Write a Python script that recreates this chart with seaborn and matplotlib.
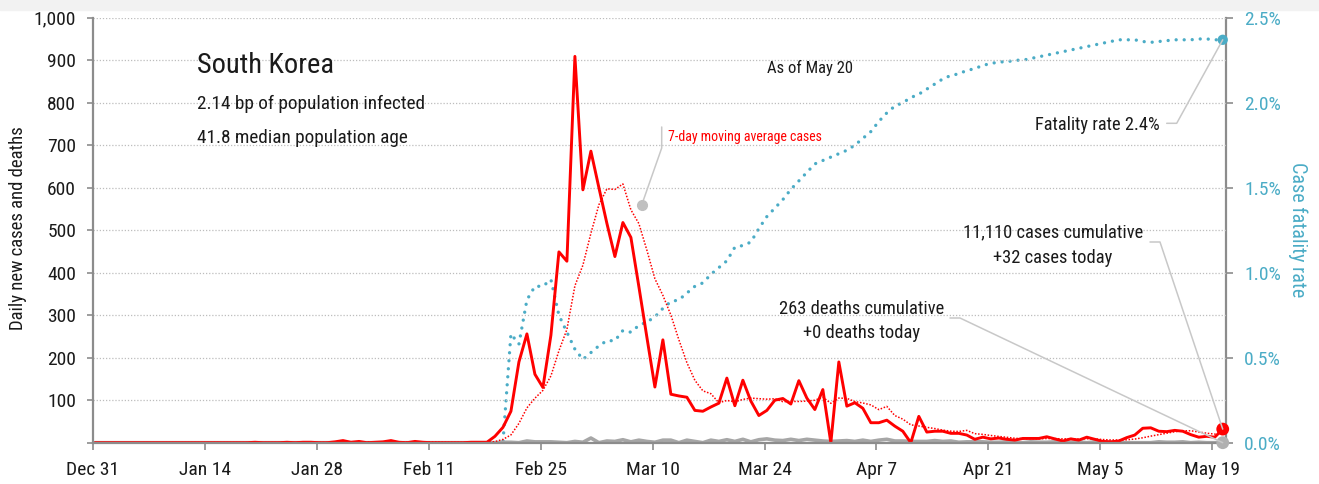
import matplotlib
matplotlib.use("Agg")
import matplotlib.pyplot as plt
import matplotlib.dates as mdates
from matplotlib import font_manager
from matplotlib.lines import Line2D
from matplotlib.patches import Rectangle
from matplotlib.ticker import FuncFormatter, MultipleLocator
import pandas as pd
import seaborn as sns

# South Korea, daily values from Dec 31 2019 to May 20 2020 (one per day, 14 per row)
daily_cases = [
    0, 0, 0, 0, 0, 0, 0, 0, 0, 0, 0, 0, 0, 0,
    0, 0, 0, 0, 0, 0, 1, 0, 0, 0, 1, 0, 1, 1,
    0, 0, 2, 5, 1, 3, 0, 1, 2, 5, 1, 0, 3, 1,
    0, 0, 0, 0, 0, 1, 1, 1, 15, 36, 74, 190, 256, 161,
    130, 253, 449, 427, 909, 595, 686, 600, 516, 438, 518, 483, 367, 248,
    131, 242, 114, 110, 107, 76, 74, 84, 93, 152, 87, 147, 98, 64,
    76, 100, 104, 91, 146, 105, 78, 125, 0, 190, 86, 94, 81, 47,
    47, 53, 39, 27, 0, 62, 25, 27, 27, 22, 22, 18, 8, 13,
    9, 11, 8, 6, 10, 10, 10, 14, 9, 4, 9, 6, 13, 8,
    3, 2, 4, 12, 18, 34, 35, 27, 26, 29, 27, 19, 13, 15,
    13, 32,
]
daily_deaths = [
    0, 0, 0, 0, 0, 0, 0, 0, 0, 0, 0, 0, 0, 0,
    0, 0, 0, 0, 0, 0, 0, 0, 0, 0, 0, 0, 0, 0,
    0, 0, 0, 0, 0, 0, 0, 0, 0, 0, 0, 0, 0, 0,
    0, 0, 0, 0, 0, 0, 0, 0, 0, 1, 1, 0, 4, 2,
    2, 2, 1, 0, 3, 1, 11, 0, 4, 3, 7, 2, 6, 3,
    1, 6, 6, 0, 6, 3, 0, 6, 3, 7, 3, 8, 2, 7,
    9, 6, 5, 8, 5, 8, 6, 4, 3, 4, 5, 3, 6, 3,
    6, 8, 4, 4, 3, 3, 3, 5, 3, 4, 1, 2, 2, 2,
    1, 1, 2, 0, 0, 2, 1, 1, 2, 1, 1, 2, 0, 2,
    2, 1, 1, 0, 0, 0, 0, 2, 1, 1, 2, 0, 1, 0,
    0, 0,
]
fatality_rate_pct = [
    0, 0, 0, 0, 0, 0, 0, 0, 0, 0, 0, 0, 0, 0,
    0, 0, 0, 0, 0, 0, 0, 0, 0, 0, 0, 0, 0, 0,
    0, 0, 0, 0, 0, 0, 0, 0, 0, 0, 0, 0, 0, 0,
    0, 0, 0, 0, 0, 0, 0, 0, 0, 0, 0.64, 0.58, 0.84, 0.92,
    0.92, 0.96, 0.75, 0.65, 0.55, 0.49, 0.53, 0.57, 0.60, 0.60, 0.66, 0.65, 0.69, 0.71,
    0.74, 0.79, 0.83, 0.84, 0.88, 0.92, 0.94, 0.99, 1.03, 1.07, 1.15, 1.16, 1.18, 1.26,
    1.33, 1.38, 1.43, 1.49, 1.54, 1.59, 1.64, 1.66, 1.68, 1.70, 1.72, 1.75, 1.79, 1.83,
    1.89, 1.94, 1.98, 2.00, 2.03, 2.05, 2.08, 2.11, 2.14, 2.16, 2.17, 2.19, 2.20, 2.22,
    2.23, 2.24, 2.24, 2.25, 2.25, 2.26, 2.27, 2.28, 2.29, 2.30, 2.31, 2.32, 2.33, 2.34,
    2.35, 2.36, 2.37, 2.37, 2.37, 2.36, 2.355, 2.36, 2.365, 2.37, 2.37, 2.37, 2.375, 2.375,
    2.37, 2.37,
]
# report time of day (morning bulletins sit a bit past midnight on the axis)
dates = pd.date_range("2019-12-31 07:00", "2020-05-20 07:00", freq="D")
axis_start = pd.Timestamp("2019-12-31")

RED = "#ff0000"
TEAL = "#4bacc6"
GRAY = "#a6a6a6"
AXIS_GRAY = "#8c8c8c"
LEADER = "#c8c8c8"
INK = "#1a1a1a"

W, H = 1319, 484

sns.set_style("white")


def pick_font():
    for name in ["Liberation Sans Narrow", "Roboto Condensed"]:
        try:
            font_manager.findfont(font_manager.FontProperties(family=name), fallback_to_default=False)
            return name
        except ValueError:
            pass
    return "Roboto"


plt.rcParams["font.family"] = [pick_font(), "DejaVu Sans"]

df = pd.DataFrame({
    "date": dates,
    "cases": daily_cases,
    "deaths": daily_deaths,
    "cfr": fatality_rate_pct,
})
df["ma7"] = df["cases"].rolling(7).mean()

fig = plt.figure(figsize=(W / 100, H / 100), dpi=100)
fig.patches.append(Rectangle((0, 1 - 10 / H), 1, 10 / H, transform=fig.transFigure,
                             color="#f2f2f2", zorder=0))
ax = fig.add_axes([92.7 / W, 1 - 442.7 / H, (1226 - 92.7) / W, 425 / H])

# daily lines on the left axis
sns.lineplot(data=df, x="date", y="deaths", color=GRAY, lw=2.6, ax=ax)
sns.lineplot(data=df.dropna(), x="date", y="ma7", color=RED, lw=1.1,
             linestyle=(0, (1, 1.1)), ax=ax)
sns.lineplot(data=df, x="date", y="cases", color=RED, lw=2.1, ax=ax)

ax.set_ylim(0, 1000)
ax.set_xlim(axis_start, axis_start + pd.Timedelta(days=141.7))
ax.yaxis.set_major_locator(MultipleLocator(100))
ax.yaxis.set_major_formatter(FuncFormatter(lambda v, p: "" if v == 0 else f"{v:,.0f}"))
ax.set_xticks(pd.date_range(axis_start, periods=11, freq="14D"))
ax.xaxis.set_major_formatter(mdates.DateFormatter("%b %-d"))
ax.yaxis.grid(True, color="#bdbdbd", linestyle=(0, (1, 1.5)), lw=0.9)
ax.set_axisbelow(True)
for side in ["top", "right"]:
    ax.spines[side].set_visible(False)
for side in ["left", "bottom"]:
    ax.spines[side].set_color(AXIS_GRAY)
    ax.spines[side].set_linewidth(1.6)
ax.tick_params(axis="y", length=4, width=1.2, color=AXIS_GRAY, labelsize=14,
               labelcolor=INK, pad=8, left=True)
ax.tick_params(axis="x", length=5, width=1.2, color=AXIS_GRAY, labelsize=14,
               labelcolor=INK, pad=8, bottom=True)

# case fatality rate on the right axis
ax2 = ax.twinx()
sns.lineplot(data=df, x="date", y="cfr", color=TEAL, lw=2.4,
             linestyle=(0, (0.01, 2.4)), dash_capstyle="round", ax=ax2)
ax2.set_ylim(0, 2.5)
ax2.yaxis.set_major_locator(MultipleLocator(0.5))
ax2.yaxis.set_major_formatter(FuncFormatter(lambda v, p: f"{v:.1f}%"))
for side in ["top", "left", "bottom"]:
    ax2.spines[side].set_visible(False)
ax2.spines["right"].set_color(AXIS_GRAY)
ax2.spines["right"].set_linewidth(1.6)
ax2.tick_params(axis="y", length=5, width=1.2, color=AXIS_GRAY, labelsize=14,
                labelcolor=TEAL, pad=8, right=True)

# latest-day dots
last = df.tail(1)
sns.scatterplot(data=last, x="date", y="deaths", color="#b0b0b0", s=85,
                edgecolor="none", clip_on=False, zorder=5, ax=ax)
sns.scatterplot(data=last, x="date", y="cases", color=RED, s=85,
                edgecolor="none", clip_on=False, zorder=6, ax=ax)
sns.scatterplot(data=last, x="date", y="cfr", color=TEAL, s=55,
                edgecolor="none", clip_on=False, zorder=6, ax=ax2)

# keep the case lines and red dot above the teal layer
ax.set_zorder(ax2.get_zorder() + 1)
ax.patch.set_visible(False)
for a in (ax, ax2):
    a.set_xlabel("")
    a.set_ylabel("")


def fig_txt(x, y, s, **kw):
    kw.setdefault("color", INK)
    kw.setdefault("va", "baseline")
    fig.text(x / W, 1 - y / H, s, **kw)


def data_px(axis, date, value):
    return axis.transData.transform((mdates.date2num(date), value))


def leader(points, end=None):
    xs = [p[0] for p in points]
    ys = [H - p[1] for p in points]
    if end is not None:
        xs.append(end[0])
        ys.append(end[1])
    fig.add_artist(Line2D(xs, ys, transform=None, color=LEADER, lw=1.1, zorder=4))


# axis titles
fig_txt(18, 228, "Daily new cases and deaths", size=13.5, rotation=90, ha="center", va="center")
fig_txt(1298, 230, "Case fatality rate", size=14.5, rotation=270, ha="center", va="center",
        color=TEAL)

# headline block
fig_txt(197, 73, "South Korea", size=20.5)
fig_txt(197, 109, "2.14 bp of population infected", size=13.9)
fig_txt(197, 143, "41.8 median population age", size=13.9)
fig_txt(810, 73, "As of May 20", size=12, ha="center")

# moving average callout
fig_txt(668, 141, "7-day moving average cases", size=10, color=RED)
ma_dot = (641.7, 205)
leader([(661.7, 127), (661.7, 148), ma_dot])
fig.add_artist(Line2D([ma_dot[0]], [H - ma_dot[1]], transform=None, marker="o",
                      markersize=7, color="#c0c0c0", lw=0, zorder=5))

# end-of-series callouts
end_date = dates[-1]
fig_txt(1160, 130, "Fatality rate 2.4%", size=13.2, ha="right")
leader([(1166.7, 123.3), (1176.7, 123.3)], data_px(ax2, end_date, fatality_rate_pct[-1]))

fig_txt(1053, 237, "11,110 cases cumulative", size=13.3, ha="center")
fig_txt(1053, 263, "+32 cases today", size=13.3, ha="center")
leader([(1150, 242), (1160, 242)], data_px(ax, end_date, daily_cases[-1]))

fig_txt(862, 314, "263 deaths cumulative", size=13.3, ha="center")
fig_txt(862, 338, "+0 deaths today", size=13.3, ha="center")
leader([(950, 318), (960, 318)], data_px(ax, end_date, daily_deaths[-1]))

fig.savefig("out.png", dpi=100)
